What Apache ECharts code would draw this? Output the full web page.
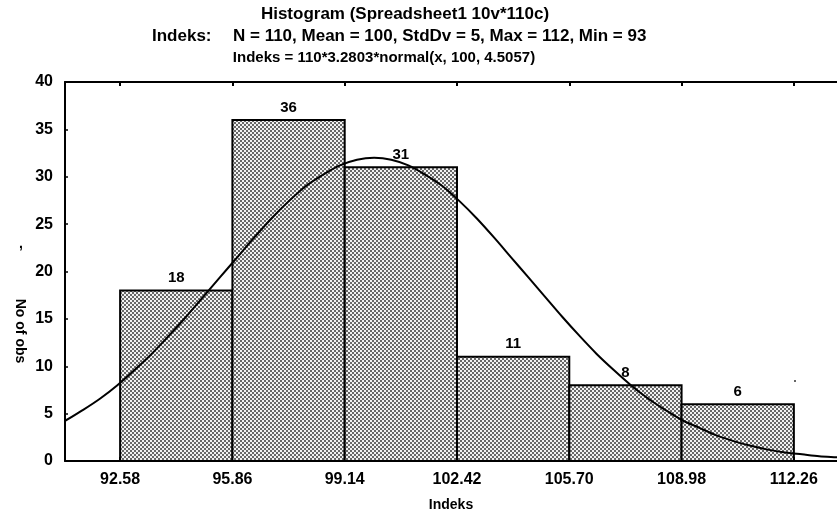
<!DOCTYPE html>
<html>
<head>
<meta charset="utf-8">
<title>Histogram (Spreadsheet1 10v*110c)</title>
<script src="https://cdn.jsdelivr.net/npm/echarts@6/dist/echarts.min.js"></script>
<style>
  html, body { margin: 0; padding: 0; background: #fff; }
  #chart { width: 837px; height: 517px; }
</style>
</head>
<body>
<div id="chart"></div>
<script>
// histogram bins (edges) and counts
const binEdges = [92.58, 95.86, 99.14, 102.42, 105.70, 108.98, 112.26];
const counts = [18, 36, 31, 11, 8, 6];

// fitted normal curve
const curveX = [90.5, 91, 91.5, 92, 92.5, 93, 93.5, 94, 94.5, 95, 95.5, 96, 96.5, 97, 97.5,
  98, 98.5, 99, 99.5, 100, 100.5, 101, 101.5, 102, 102.5, 103, 103.5, 104, 104.5,
  105, 105.5, 106, 106.5, 107, 107.5, 108, 108.5, 109, 109.5, 110, 110.5, 111,
  111.5, 112, 112.5, 113, 113.5, 114];
const curveY = [3.5, 4.3, 5.4, 6.6, 8.0, 9.6, 11.3, 13.2, 15.2, 17.3, 19.4, 21.5, 23.6, 25.6, 27.4,
  29.0, 30.2, 31.2, 31.8, 32.0, 31.8, 31.2, 30.2, 29.0, 27.4, 25.6, 23.6, 21.5, 19.4,
  17.3, 15.2, 13.2, 11.3, 9.6, 8.0, 6.6, 5.4, 4.3, 3.5, 2.7, 2.1, 1.6,
  1.2, 0.9, 0.7, 0.5, 0.4, 0.3];

const xMin = 90.97;
const xMax = 113.52;

const font = '"Liberation Sans", Arial, sans-serif';

// halftone fill like the printed bars
const tile = document.createElement('canvas');
tile.width = 4;
tile.height = 4;
const tctx = tile.getContext('2d');
tctx.fillStyle = '#f2f2f2';
tctx.fillRect(0, 0, 4, 4);
tctx.fillStyle = '#686868';
tctx.fillRect(0, 0, 2, 2);
tctx.fillRect(2, 2, 2, 2);
const halftone = { image: tile, repeat: 'repeat' };

const barData = counts.map((c, i) => [binEdges[i], binEdges[i + 1], c]);
const curveData = curveX.map((x, i) => [x, curveY[i]]);

const chart = echarts.init(document.getElementById('chart'));

const axisLineStyle = { color: '#000', width: 2 };

const option = {
  backgroundColor: '#fff',
  animation: false,
  grid: {
    left: 65,
    top: 82,
    right: 0,
    bottom: 54,
    show: false
  },
  xAxis: [
    {
      type: 'value',
      min: xMin,
      max: xMax,
      name: 'Indeks',
      nameLocation: 'middle',
      nameGap: 37,
      nameTextStyle: { color: '#000', fontFamily: font, fontWeight: 'bold', fontSize: 14 },
      axisLine: { show: true, lineStyle: axisLineStyle },
      axisTick: { show: true, inside: true, length: 4, customValues: binEdges, lineStyle: axisLineStyle },
      axisLabel: {
        customValues: binEdges,
        formatter: v => v.toFixed(2),
        color: '#000',
        fontFamily: font,
        fontWeight: 'bold',
        fontSize: 16,
        margin: 11
      },
      splitLine: { show: false }
    },
    {
      type: 'value',
      position: 'top',
      min: xMin,
      max: xMax,
      axisLine: { show: true, lineStyle: axisLineStyle },
      axisTick: { show: true, inside: true, length: 4, customValues: binEdges, lineStyle: axisLineStyle },
      axisLabel: { show: false },
      splitLine: { show: false }
    }
  ],
  yAxis: {
    type: 'value',
    min: 0,
    max: 40,
    interval: 5,
    axisLine: { show: true, lineStyle: axisLineStyle },
    axisTick: { show: true, inside: true, length: 3, lineStyle: { color: '#000', width: 1.5 } },
    axisLabel: { color: '#000', fontFamily: font, fontWeight: 'bold', fontSize: 16, margin: 12 },
    splitLine: { show: false }
  },
  graphic: [
    { type: 'text', x: 405, y: 14, style: { text: 'Histogram (Spreadsheet1 10v*110c)', font: 'bold 17px ' + font, fill: '#000', align: 'center', verticalAlign: 'middle' } },
    { type: 'text', x: 152, y: 36, style: { text: 'Indeks:', font: 'bold 17px ' + font, fill: '#000', align: 'left', verticalAlign: 'middle' } },
    { type: 'text', x: 233, y: 36, style: { text: 'N = 110, Mean = 100, StdDv = 5, Max = 112, Min = 93', font: 'bold 17px ' + font, fill: '#000', align: 'left', verticalAlign: 'middle' } },
    { type: 'text', x: 384, y: 58, style: { text: 'Indeks = 110*3.2803*normal(x, 100, 4.5057)', font: 'bold 15px ' + font, fill: '#000', align: 'center', verticalAlign: 'middle' } },
    { type: 'text', x: 20, y: 331, rotation: -Math.PI / 2, style: { text: 'No of obs', font: 'bold 14px ' + font, fill: '#000', align: 'center', verticalAlign: 'middle' } },
    { type: 'text', x: 21, y: 244, style: { text: ',', font: 'bold 14px ' + font, fill: '#000', align: 'center', verticalAlign: 'middle' } },
    { type: 'circle', shape: { cx: 795, cy: 381, r: 1 }, style: { fill: '#333' } }
  ],
  series: [
    {
      type: 'custom',
      xAxisIndex: 0,
      yAxisIndex: 0,
      data: barData,
      renderItem: (params, api) => {
        const topLeft = api.coord([api.value(0), api.value(2)]);
        const bottomRight = api.coord([api.value(1), 0]);
        return {
          type: 'group',
          children: [
            {
              type: 'rect',
              shape: {
                x: topLeft[0],
                y: topLeft[1],
                width: bottomRight[0] - topLeft[0],
                height: bottomRight[1] - topLeft[1]
              },
              style: { fill: halftone, stroke: '#000', lineWidth: 2 }
            },
            {
              type: 'text',
              style: {
                text: String(api.value(2)),
                x: (topLeft[0] + bottomRight[0]) / 2,
                y: topLeft[1] - 5,
                align: 'center',
                verticalAlign: 'bottom',
                font: 'bold 15px ' + font,
                fill: '#000'
              }
            }
          ]
        };
      },
      z: 2
    },
    {
      type: 'line',
      xAxisIndex: 0,
      yAxisIndex: 0,
      data: curveData,
      smooth: 0.3,
      showSymbol: false,
      clip: true,
      lineStyle: { color: '#000', width: 2 },
      z: 3
    }
  ]
};

chart.setOption(option);
</script>
</body>
</html>
